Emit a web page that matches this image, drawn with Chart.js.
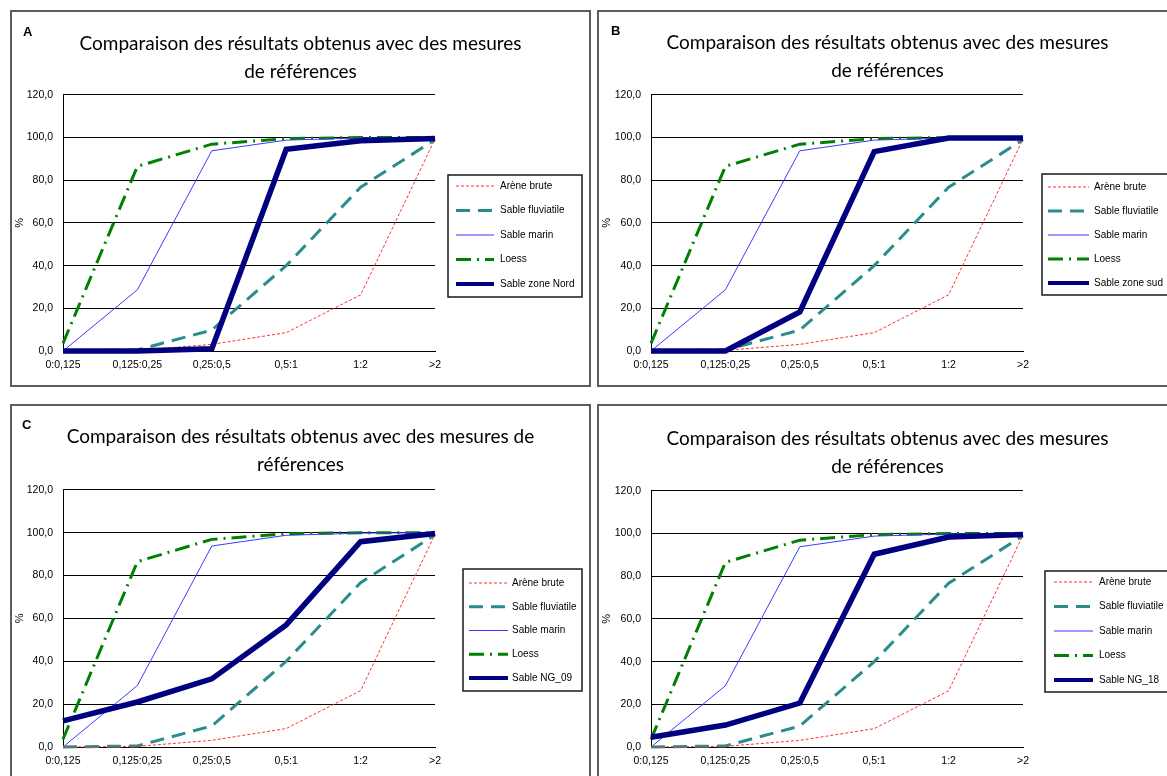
<!DOCTYPE html>
<html>
<head>
<meta charset="utf-8">
<script src="https://cdn.jsdelivr.net/npm/chart.js@4.4.1/dist/chart.umd.min.js"></script>
<style>
  html, body { margin: 0; padding: 0; background: #fff; }
  body { width: 1167px; height: 776px; overflow: hidden; position: relative; }
  .panel { position: absolute; width: 581px; }
  .panel canvas { position: absolute; left: 0; top: 0; }
  .frame { position: absolute; left: 0; top: 0; right: 0; bottom: 0; border: 2px solid #5c5c5c;
           box-sizing: border-box; pointer-events: none; }
</style>
</head>
<body>
<div class="panel" style="left:10px;top:10px;height:377px"><canvas id="cA" width="581" height="377"></canvas><div class="frame"></div></div>
<div class="panel" style="left:597px;top:10px;height:377px"><canvas id="cB" width="581" height="377"></canvas><div class="frame"></div></div>
<div class="panel" style="left:10px;top:404px;height:400px"><canvas id="cC" width="581" height="372"></canvas><div class="frame"></div></div>
<div class="panel" style="left:597px;top:404px;height:400px"><canvas id="cD" width="581" height="372"></canvas><div class="frame"></div></div>
<script>
// Grain-size classes (mm) and cumulative passing percentages
const categories = ['0:0,125', '0,125:0,25', '0,25:0,5', '0,5:1', '1:2', '>2'];
const yTickLabels = ['0,0', '20,0', '40,0', '60,0', '80,0', '100,0', '120,0'];

const areneBrute      = [0, 0.3, 3.1, 8.6, 26.3, 99.3];
const sableFluviatile = [0, 0.5, 9.8, 40.0, 76.7, 99.0];
const sableMarin      = [0, 28.7, 93.8, 98.8, 99.8, 100];
const loess           = [3.6, 86.5, 96.9, 99.5, 100, 100];

const sableZoneNord = [0, 0, 1.0, 94.5, 98.5, 99.6];
const sableZoneSud  = [0, 0, 18.3, 93.4, 99.8, 99.8];
const sableNG09     = [12.2, 21.0, 31.8, 57.0, 95.8, 99.6];
const sableNG18     = [4.6, 10.3, 20.6, 90.3, 98.4, 99.6];

const titleLong  = ['Comparaison des résultats obtenus avec des mesures', 'de références'];
const titleShort = ['Comparaison des résultats obtenus avec des mesures de', 'références'];

const TEXT_FONT  = "'Liberation Sans', Arial, sans-serif";
const TITLE_FONT = "Lato, 'Open Sans', sans-serif";

Chart.defaults.font.family = TEXT_FONT;
Chart.defaults.color = '#000';

// Boxed legend with line samples, drawn from the chart's own datasets
const legendBox = {
  id: 'legendBox',
  afterDraw(chart, args, o) {
    const ctx = chart.ctx;
    ctx.save();
    ctx.setLineDash([]);
    ctx.strokeStyle = '#1a1a1a';
    ctx.lineWidth = 1.5;
    ctx.strokeRect(o.x, o.y, o.w, o.h);
    chart.data.datasets.forEach((ds, i) => {
      const y = o.rowY + i * o.rowGap;
      ctx.setLineDash(ds.borderDash || []);
      ctx.strokeStyle = ds.borderColor;
      ctx.lineWidth = ds.legendWidth || ds.borderWidth;
      ctx.beginPath();
      ctx.moveTo(o.lineX0, y);
      ctx.lineTo(o.lineX1, y);
      ctx.stroke();
      ctx.setLineDash([]);
      ctx.fillStyle = '#000';
      ctx.font = '10px ' + TEXT_FONT;
      ctx.textBaseline = 'middle';
      ctx.textAlign = 'left';
      ctx.fillText(ds.label, o.textX, y);
    });
    ctx.restore();
  }
};

// Panel letter in the top-left corner
const panelLetter = {
  id: 'panelLetter',
  afterDraw(chart, args, o) {
    if (!o.text) return;
    const ctx = chart.ctx;
    ctx.save();
    ctx.font = 'bold 13px ' + TEXT_FONT;
    ctx.fillStyle = '#000';
    ctx.textBaseline = 'middle';
    ctx.fillText(o.text, o.x, o.y);
    ctx.restore();
  }
};

function makeDatasets(sampleLabel, sampleValues) {
  return [
    { label: 'Arène brute', data: areneBrute, borderColor: '#ff3030', borderWidth: 1, borderDash: [3, 2] },
    { label: 'Sable fluviatile', data: sableFluviatile, borderColor: '#2a8c8c', borderWidth: 3, borderDash: [14, 8] },
    { label: 'Sable marin', data: sableMarin, borderColor: '#3a3aff', borderWidth: 1 },
    { label: 'Loess', data: loess, borderColor: '#008000', borderWidth: 3, borderDash: [15, 6, 2, 6] },
    { label: sampleLabel, data: sampleValues, borderColor: '#000080', borderWidth: 5.5, legendWidth: 4, order: -1 }
  ].map(d => Object.assign({ pointRadius: 0, tension: 0, fill: false, clip: false }, d));
}

function makePanel(id, cfg) {
  const canvas = document.getElementById(id);
  const W = canvas.width, H = canvas.height;
  return new Chart(canvas, {
    type: 'line',
    data: { labels: categories, datasets: makeDatasets(cfg.label, cfg.values) },
    plugins: [legendBox, panelLetter],
    options: {
      responsive: false,
      animation: false,
      devicePixelRatio: 1,
      layout: { padding: 0 },
      plugins: {
        legend: { display: false },
        tooltip: { enabled: false },
        title: {
          display: true,
          text: cfg.title,
          color: '#000',
          font: { family: TITLE_FONT, size: 19, weight: 'normal', lineHeight: 1.47 },
          padding: { top: cfg.titleTop, bottom: cfg.titleBottom }
        },
        legendBox: cfg.legend,
        panelLetter: cfg.letter
      },
      scales: {
        x: {
          type: 'category',
          offset: false,
          grid: { display: false, drawTicks: false },
          border: { display: true, color: '#000', width: 1 },
          ticks: { color: '#000', font: { size: 10.5 }, padding: 8, maxRotation: 0, autoSkip: false },
          afterFit(s) { s.height = H - cfg.plotBottom; }
        },
        y: {
          min: 0, max: 120,
          grid: { color: '#000', lineWidth: 1, drawTicks: false },
          border: { display: true, color: '#000', width: 1 },
          ticks: { stepSize: 20, color: '#000', font: { size: 10.5 }, padding: 10,
                   callback: (v, i) => yTickLabels[i] },
          title: { display: true, text: '%', color: '#000', font: { size: 11 }, padding: { top: 3, bottom: 0 } },
          afterFit(s) { s.width = cfg.plotLeft; }
        },
        legendSpace: {
          type: 'linear',
          position: 'right',
          display: true,
          grid: { display: false, drawTicks: false },
          border: { display: false },
          ticks: { display: false },
          afterFit(s) { s.width = W - cfg.plotRight; }
        }
      }
    }
  });
}

makePanel('cA', {
  label: 'Sable zone Nord', values: sableZoneNord, title: titleLong,
  titleTop: 20, titleBottom: 9, plotLeft: 53, plotRight: 425, plotBottom: 341,
  letter: { text: 'A', x: 13, y: 22 },
  legend: { x: 438, y: 165, w: 134, h: 122, rowY: 176, rowGap: 24.5, lineX0: 446, lineX1: 484, textX: 490 }
});
makePanel('cB', {
  label: 'Sable zone sud', values: sableZoneSud, title: titleLong,
  titleTop: 19, titleBottom: 10, plotLeft: 54, plotRight: 426, plotBottom: 341,
  letter: { text: 'B', x: 14, y: 21 },
  legend: { x: 445, y: 164, w: 135, h: 121, rowY: 177, rowGap: 24, lineX0: 451, lineX1: 492, textX: 497 }
});
makePanel('cC', {
  label: 'Sable NG_09', values: sableNG09, title: titleShort,
  titleTop: 19, titleBottom: 11, plotLeft: 53, plotRight: 425, plotBottom: 343,
  letter: { text: 'C', x: 12, y: 21 },
  legend: { x: 453, y: 165, w: 119, h: 122, rowY: 179, rowGap: 23.75, lineX0: 459, lineX1: 498, textX: 502 }
});
makePanel('cD', {
  label: 'Sable NG_18', values: sableNG18, title: titleLong,
  titleTop: 21, titleBottom: 10, plotLeft: 54, plotRight: 426, plotBottom: 343,
  letter: { text: '' },
  legend: { x: 448, y: 167, w: 135, h: 121, rowY: 178, rowGap: 24.5, lineX0: 457, lineX1: 496, textX: 502 }
});
</script>
</body>
</html>
